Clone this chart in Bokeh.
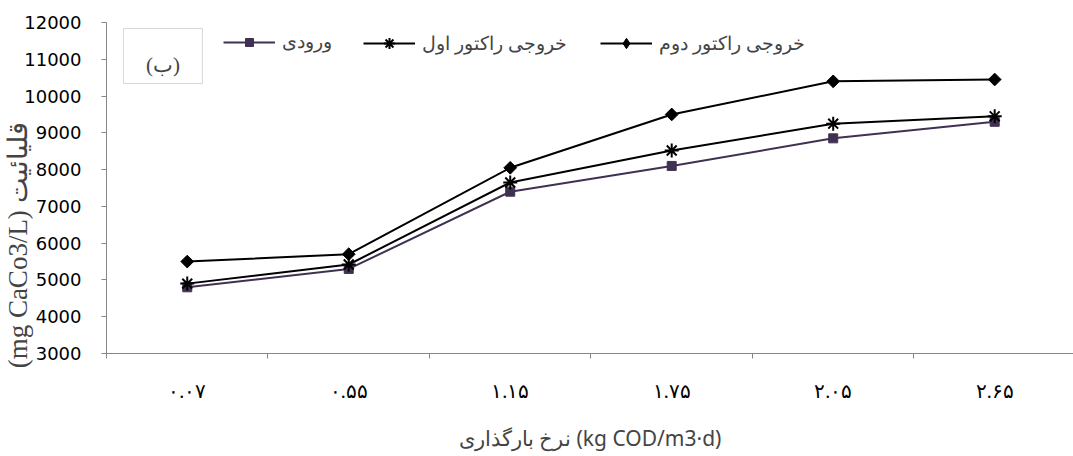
from bokeh.plotting import figure
from bokeh.models import (Range1d, FixedTicker, Legend, LegendItem, BoxAnnotation, Label)
from bokeh.embed import file_html
from bokeh.resources import INLINE
import math

categories = ["۰.۰۷", "۰.۵۵", "۱.۱۵", "۱.۷۵", "۲.۰۵", "۲.۶۵"]
series_names = ["ورودی", "خروجی راکتور اول", "خروجی راکتور دوم"]
influent = [4800, 5300, 7400, 8100, 8850, 9300]
reactor1 = [4900, 5420, 7650, 8520, 9250, 9450]
reactor2 = [5500, 5700, 8050, 9500, 10400, 10450]
y_ticks = [3000, 4000, 5000, 6000, 7000, 8000, 9000, 10000, 11000, 12000]

xc = [i + 0.5 for i in range(len(categories))]

p = figure(width=1073, height=456, output_backend="svg", toolbar_location=None,
           x_range=Range1d(0, 5.988), y_range=Range1d(3000, 12000),
           min_border_left=106, min_border_right=0, min_border_top=22, min_border_bottom=103)
p.outline_line_color = None
p.grid.visible = False
p.background_fill_color = "white"

axis_col = "#868686"
# x axis
p.xaxis.ticker = FixedTicker(ticks=xc, minor_ticks=list(range(0, 7)))
p.xaxis.major_label_overrides = {x: c for x, c in zip(xc, categories)}
p.xaxis.major_tick_out = 0
p.xaxis.major_tick_in = 0
p.xaxis.minor_tick_out = 5
p.xaxis.minor_tick_in = 0
p.xaxis.minor_tick_line_color = axis_col
p.xaxis.axis_line_color = axis_col
p.xaxis.major_label_text_font = "Liberation Serif"
p.xaxis.major_label_text_font_size = "20px"
p.xaxis.major_label_text_color = "black"
p.xaxis.major_label_standoff = 21
p.xaxis.axis_label = "نرخ بارگذاری (kg COD/m3·d)"
p.xaxis.axis_label_text_font = "Noto Sans"
p.xaxis.axis_label_text_font_style = "normal"
p.xaxis.axis_label_text_font_size = "21px"
p.xaxis.axis_label_standoff = 19

# y axis
p.yaxis.ticker = FixedTicker(ticks=y_ticks, minor_ticks=[])
p.yaxis.major_tick_out = 5
p.yaxis.major_tick_in = 0
p.yaxis.major_tick_line_color = axis_col
p.yaxis.axis_line_color = axis_col
p.yaxis.major_label_text_font = "DejaVu Sans"
p.yaxis.major_label_text_font_size = "18px"
p.yaxis.major_label_text_color = "black"
p.yaxis.major_label_standoff = 20
p.yaxis.axis_label = "(mg CaCo3/L) قلیائیت" + "\u00a0" * 17
p.yaxis.axis_label_text_font = "Liberation Serif"
p.yaxis.axis_label_text_font_style = "normal"
p.yaxis.axis_label_text_font_size = "27px"
p.yaxis.axis_label_standoff = -12

# series
purple = "#403152"
l1 = p.line(xc, influent, line_color=purple, line_width=2)
s1 = p.scatter(xc, influent, marker="square", size=9, fill_color=purple, line_color=purple)
l2 = p.line(xc, reactor1, line_color="black", line_width=2)
s2 = p.scatter(xc, reactor1, marker="asterisk", size=14, line_color="black", line_width=2)
l3 = p.line(xc, reactor2, line_color="black", line_width=2)
# diamond glyph used for the legend key (legend keys ignore marker angle);
# it sits hidden under the rotated squares on the plot
s3_key = p.scatter(xc, reactor2, marker="diamond", size=11, fill_color="black", line_color="black")
s3 = p.scatter(xc, reactor2, marker="square", angle=math.pi / 4, size=9,
               fill_color="black", line_color="black")

legend_x = [117, 257, 494]
legend_gh = [20, 28, 26]
for name, rs, lx, gh in zip(series_names, [[l1, s1], [l2, s2], [l3, s3_key]], legend_x, legend_gh):
    lg = Legend(items=[LegendItem(label=name, renderers=rs)], location=(lx, 300 - (gh - 20) // 2),
                orientation="horizontal", padding=0, margin=0, border_line_color=None,
                background_fill_alpha=0, glyph_width=52, glyph_height=gh,
                label_standoff=7, label_text_font="Liberation Serif",
                label_text_font_size="19px", label_height=gh)
    p.add_layout(lg, "center")

# panel label box
box = BoxAnnotation(left=0.105, right=0.594, bottom=10341, top=11837,
                    fill_alpha=0, line_color="#7f7f7f", line_width=1)
p.add_layout(box)
p.add_layout(Label(x=0.35, y=10850, text="(ب)", text_align="center", text_baseline="middle",
                   text_font="Liberation Serif", text_font_size="21px"))

open("out.html", "w").write(file_html(p, INLINE))
